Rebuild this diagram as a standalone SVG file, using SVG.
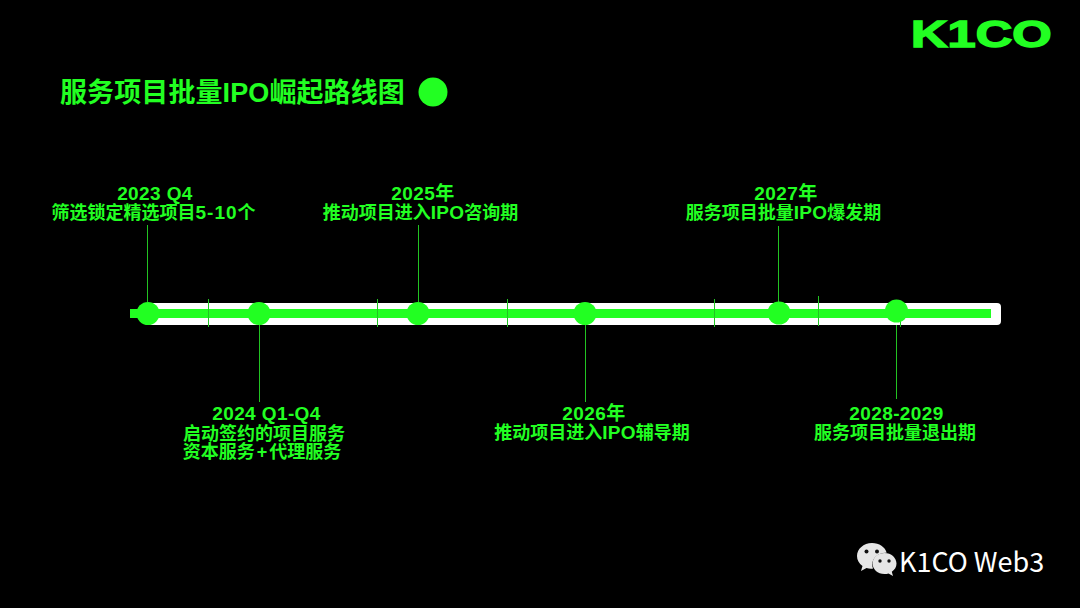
<svg xmlns="http://www.w3.org/2000/svg" width="1080" height="608" viewBox="0 0 1080 608">
<style>
.l{font-family:"Liberation Sans","Noto Sans CJK SC",sans-serif;font-weight:700;fill:#22ff22;font-size:18px;text-anchor:middle}
.y{font-size:19px;letter-spacing:.4px}
.i{font-size:19px;letter-spacing:.3px}
.c{fill:#22ff22}
.s{stroke:#22c322;stroke-width:1;fill:none}
</style>
<rect width="1080" height="608" fill="#000"/>
<g id="logo"><text transform="translate(911 46.500) scale(1.350 1)" font-family="'Liberation Sans',sans-serif" font-weight="700" font-size="37.500" fill="#22ff22" stroke="#22ff22" stroke-width="1.500">K1CO</text></g>
<g id="title"><text x="60" y="102" font-family="'Liberation Sans','Noto Sans CJK SC',sans-serif" font-weight="700" font-size="27" letter-spacing=".1" fill="#22ff22">服务项目批量IPO崛起路线图</text><circle class="c" cx="433" cy="92" r="14.500"/></g>
<g id="timeline"><rect x="146" y="303" width="855" height="22" rx="4" fill="#fff"/><rect class="c" x="130" y="309" width="861" height="9"/></g>
<g id="connectors">
<path class="s" d="M147.500 225V302M259.500 325V402M418.500 225V302M585.500 325V402M778.500 226V302M896.500 325V399M208.500 299V327M377.500 299V327M507.500 299V327M714.500 299V327M818.500 296V326M900.500 320V327"/>
</g>
<g id="n1"><circle class="c" cx="148" cy="313.500" r="11.500"/><text class="l y" x="155" y="200">2023 Q4</text><text class="l" x="153.500" y="219">筛选锁定精选项目<tspan class="y" style="letter-spacing:1px">5-10</tspan>个</text></g>
<g id="n2"><circle class="c" cx="259" cy="313.500" r="11.500"/><text class="l y" x="266.500" y="420">2024 Q1-Q4</text><text class="l" x="264" y="440">启动签约的项目服务</text><text class="l" x="262" y="458">资本服务<tspan dx="2">+</tspan><tspan dx="2">代理服务</tspan></text></g>
<g id="n3"><circle class="c" cx="418" cy="313.500" r="11.500"/><text class="l y" x="423" y="200">2025年</text><text class="l" x="420.500" y="219">推动项目进入<tspan class="i">IPO</tspan>咨询期</text></g>
<g id="n4"><circle class="c" cx="585" cy="313.500" r="11.500"/><text class="l y" x="594" y="420">2026年</text><text class="l" x="592" y="439">推动项目进入<tspan class="i">IPO</tspan>辅导期</text></g>
<g id="n5"><circle class="c" cx="779" cy="313" r="11.500"/><text class="l y" x="786" y="200">2027年</text><text class="l" x="783.500" y="219">服务项目批量<tspan class="i">IPO</tspan>爆发期</text></g>
<g id="n6"><circle class="c" cx="896.500" cy="311" r="11.500"/><text class="l y" x="896.500" y="420">2028-2029</text><text class="l" x="895" y="439">服务项目批量退出期</text></g>
<g id="wechat"><path fill="#e6e6e6" d="M872 543c-8.500 0-15 6-15 13 0 4 2 7.500 5.500 10l-1.500 5 5.500-3c1.500.5 3 .8 4.500.8 1 0 1.500 0 2-.2-.5-1.500-.8-2.500-.8-4 0-6.500 6-11.800 13.500-11.800h1c-1.500-5.700-7.500-9.800-14.700-9.800z"/><path fill="#e6e6e6" d="M884.500 553c-6.800 0-12 4.800-12 10.500s5.200 10.500 12 10.500c1.400 0 2.800-.2 4-.6l4.500 2.600-1.200-4.200c3-2 4.700-5 4.700-8.300 0-5.700-5.200-10.500-12-10.500z"/><g fill="#111"><circle cx="866.500" cy="551.500" r="2"/><circle cx="877" cy="551.500" r="2"/><circle cx="880" cy="561" r="1.700"/><circle cx="889" cy="561" r="1.700"/></g><text x="899" y="572" font-family="'Noto Sans CJK SC','Noto Sans',sans-serif" font-size="27" fill="#fff">K1CO Web3</text></g>
</svg>
